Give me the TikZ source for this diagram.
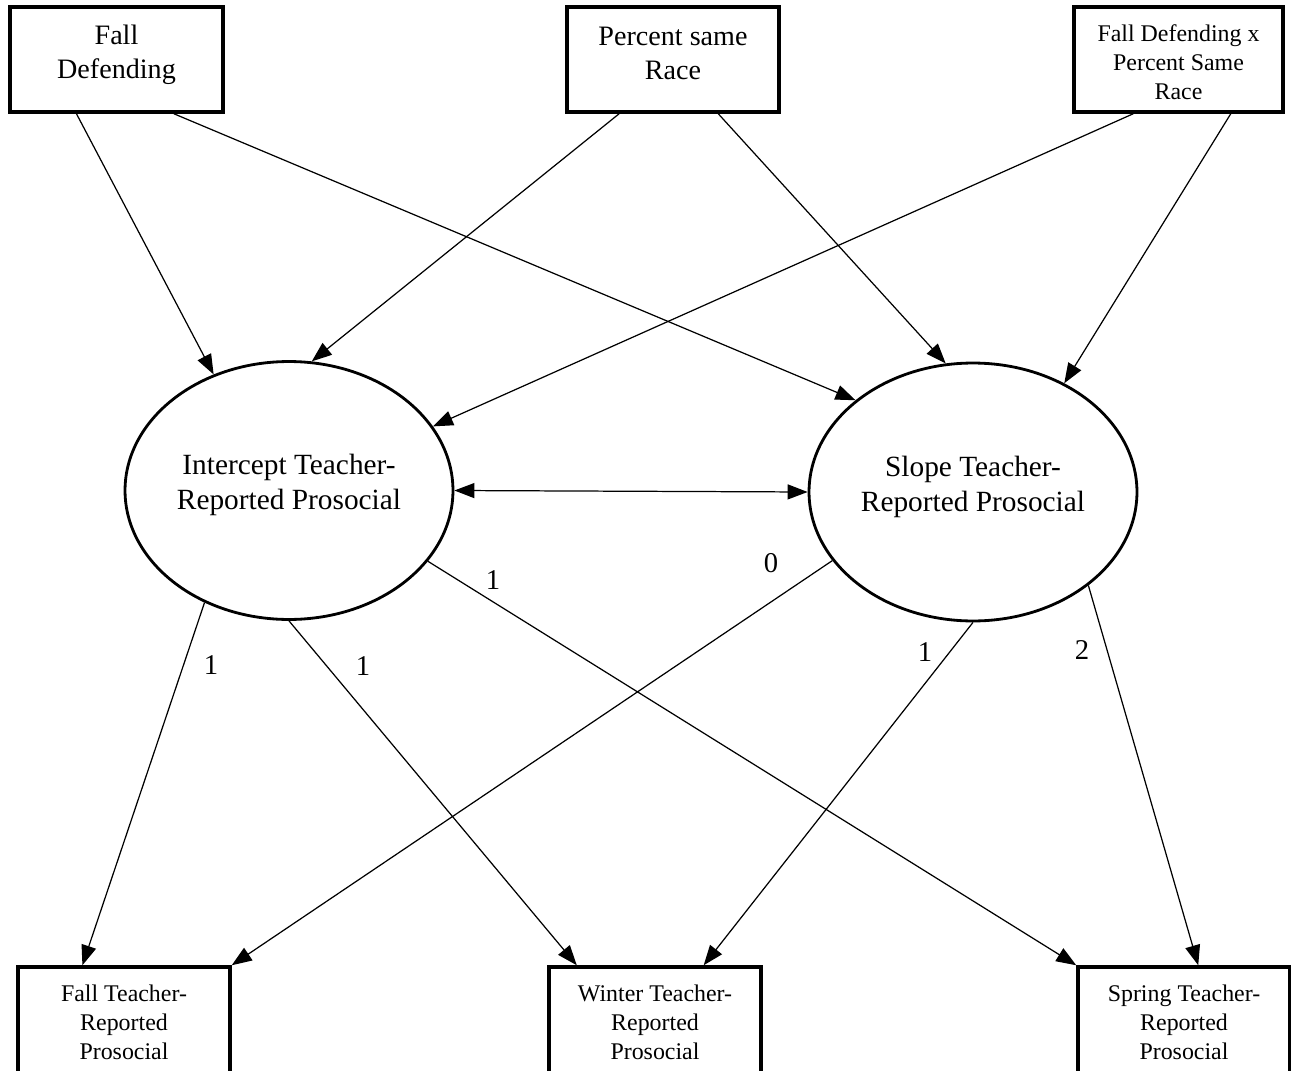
\documentclass[tikz,border=0pt]{standalone}
\usepackage{fontspec}
\setmainfont{Liberation Serif}
\usetikzlibrary{arrows.meta,calc,shapes.geometric}
\begin{document}
\begin{tikzpicture}[x=0.02cm,y=-0.02cm,
 box/.style={draw,line width=2pt,rectangle,inner sep=0pt},
 latent/.style={draw,line width=1.6pt,ellipse,inner sep=0pt,minimum width=6.56cm,minimum height=5.16cm},
 txt/.style={inner sep=0pt,align=center},
 arr/.style={line width=0.7pt,-{Triangle[length=0.4cm,width=0.3cm]}},
 dbl/.style={line width=0.7pt,{Triangle[length=0.4cm,width=0.3cm]}-{Triangle[length=0.4cm,width=0.3cm]}},
 big/.style={font=\fontsize{16}{19.3}\selectfont},
 mid/.style={font=\fontsize{16.7}{19.9}\selectfont},
 small/.style={font=\fontsize{13.6}{16.6}\selectfont},
 lbl/.style={font=\fontsize{16.3}{19.3}\selectfont,inner sep=0pt}]
\useasboundingbox (0,0) rectangle (1291,1071);
\clip (0,0) rectangle (1291,1071);
% top boxes
\node[box,minimum width=4.26cm,minimum height=2.1cm] (FD) at (116.5,59.5) {};
\node[txt,big] (FDt) at (116.5,54.5) {Fall\\Defending};
\node[box,minimum width=4.24cm,minimum height=2.1cm] (PR) at (673,59.5) {};
\node[txt,big] (PRt) at (673,53.5) {Percent same\\Race};
\node[box,minimum width=4.18cm,minimum height=2.1cm] (FX) at (1178.5,59.5) {};
\node[txt,small] (FXt) at (1178.5,62) {Fall Defending x\\Percent Same\\Race};
% latent
\node[latent] (L) at (289,490.5) {};
\node[txt,mid] (Lt) at (289,485) {Intercept Teacher-\\Reported Prosocial};
\node[latent] (R) at (973,492) {};
\node[txt,mid] (Rt) at (973,486.5) {Slope Teacher-\\Reported Prosocial};
% bottom boxes
\node[box,minimum width=4.24cm,minimum height=2.12cm] (FT) at (124,1020) {};
\node[txt,small] (FTt) at (124,1022.5) {Fall Teacher-\\Reported\\Prosocial};
\node[box,minimum width=4.24cm,minimum height=2.12cm] (WT) at (655,1020) {};
\node[txt,small] (WTt) at (655,1022.5) {Winter Teacher-\\Reported\\Prosocial};
\node[box,minimum width=4.24cm,minimum height=2.12cm] (ST) at (1184,1020) {};
\node[txt,small] (STt) at (1184,1022.5) {Spring Teacher-\\Reported\\Prosocial};
% paths from predictors
\draw[arr] ($(FD.south west)!0.315!(FD.south east)$) -- (L.123.5);
\draw[arr] ($(FD.south west)!0.765!(FD.south east)$) -- (R.142.2);
\draw[arr] ($(PR.south west)!0.25!(PR.south east)$) -- (L.80.7);
\draw[arr] ($(PR.south west)!0.71!(PR.south east)$) -- (R.102.2);
\draw[arr] ($(FX.south west)!0.287!(FX.south east)$) -- (L.24.1);
\draw[arr] ($(FX.south west)!0.746!(FX.south east)$) -- (R.50.5);
% covariance
\draw[dbl] (L.0) -- (R.180);
% loadings
\draw[arr] (L.233.4) -- ($(FT.north west)!0.307!(FT.north east)$);
\draw[arr] (L.270) -- ($(WT.north west)!0.137!(WT.north east)$);
\draw[arr] (L.-27.6) -- (ST.north west);
\draw[arr] (R.206.6) -- (FT.north east);
\draw[arr] (R.270) -- ($(WT.north west)!0.726!(WT.north east)$);
\draw[arr] (R.-39.4) -- ($(ST.north west)!0.566!(ST.north east)$);
% labels
\node[lbl] (l1) at (493,580) {1};
\node[lbl] (l2) at (771,563) {0};
\node[lbl] (l3) at (211,665) {1};
\node[lbl] (l4) at (363,666) {1};
\node[lbl] (l5) at (925,652) {1};
\node[lbl] (l6) at (1082,650) {2};
\end{tikzpicture}
\end{document}
